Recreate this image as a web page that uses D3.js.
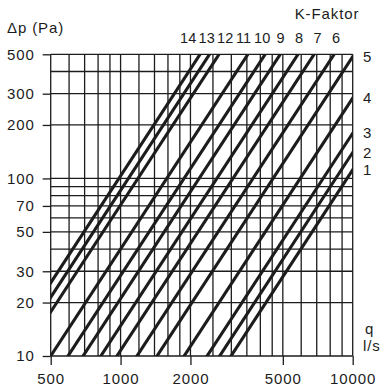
<!DOCTYPE html>
<html><head><meta charset="utf-8">
<script src="https://cdn.jsdelivr.net/npm/d3@7"></script>
<style>html,body{margin:0;padding:0;background:#fff;} svg{display:block;}</style>
</head><body><svg id="chart" width="385" height="387"></svg>
<script>
// K-factor lines: q = K * sqrt(Δp)
const lineIds = ["14","13","12","11","10","9","8","7","6","5","4","3","2","1"];
const kFactors = [98.4,108.1,118.8,158.1,187.7,218,260,305,372,454,594,746,845,946];

const qTicks = [500,1000,2000,5000,10000];
const qGrid = [500,600,700,800,900,1000,1200,1400,1600,1800,2000,2500,3000,3500,4000,4500,5000,6000,7000,8000,9000,10000];
const dpTicks = [10,20,30,50,70,100,200,300,500];
const dpGrid = [10,20,30,40,50,60,70,80,90,100,200,300,400,500];

const plot = {left: 50.7, right: 352.7, top: 54.3, bottom: 356};
const ink = "#1c1c1c";
const font = "'Liberation Sans', Arial, sans-serif";
const fs = 15;
const ls = "0.9px";

const svg = d3.select("#chart");
const x = d3.scaleLog().domain([500, 10000]).range([plot.left, plot.right]);
const y = d3.scaleLog().domain([10, 500]).range([plot.bottom, plot.top]);

svg.append("defs").append("clipPath").attr("id", "plotClip")
  .append("rect")
  .attr("x", plot.left).attr("y", plot.top)
  .attr("width", plot.right - plot.left).attr("height", plot.bottom - plot.top);

const txt = (sel, size = fs, spacing = ls) => sel.attr("fill", ink)
  .style("font-family", font).style("font-size", size + "px").style("letter-spacing", spacing);

// grid
const grid = svg.append("g").attr("stroke", ink).attr("stroke-width", 1.3).attr("fill", "none");
grid.selectAll("line.v").data(qGrid).join("line").attr("class", "v")
  .attr("x1", d => x(d)).attr("x2", d => x(d))
  .attr("y1", plot.top).attr("y2", plot.bottom);
grid.selectAll("line.h").data(dpGrid).join("line").attr("class", "h")
  .attr("y1", d => y(d)).attr("y2", d => y(d))
  .attr("x1", plot.left).attr("x2", plot.right);

// axes
const yAxis = d3.axisLeft(y).tickValues(dpTicks).tickFormat(d3.format("d")).tickSize(8).tickPadding(8);
const gy = svg.append("g").attr("transform", `translate(${plot.left},0)`).call(yAxis);
const xAxis = d3.axisBottom(x).tickValues(qTicks).tickFormat(d3.format("d")).tickSize(9).tickPadding(8);
const gx = svg.append("g").attr("transform", `translate(0,${plot.bottom})`).call(xAxis);
[gx, gy].forEach(g => {
  g.select(".domain").remove();
  g.selectAll(".tick line").attr("stroke", ink).attr("stroke-width", 1.3);
  g.selectAll(".tick text").call(txt);
});

// K-factor lines
const dpEnds = [5, 1000];
const lineGen = d3.line().x(d => x(d.q)).y(d => y(d.dp));
svg.append("g").attr("clip-path", "url(#plotClip)")
  .selectAll("path").data(kFactors).join("path")
  .attr("d", k => lineGen(dpEnds.map(dp => ({q: k * Math.sqrt(dp), dp}))))
  .attr("fill", "none").attr("stroke", ink).attr("stroke-width", 3.1);

// labels: top edge for lines leaving through 500 Pa, right edge for the rest
const dpTop = y.domain()[1], qRight = x.domain()[1];
const topItems = [], rightItems = [];
kFactors.forEach((k, i) => {
  const qTop = k * Math.sqrt(dpTop);
  if (qTop <= qRight) topItems.push({id: lineIds[i], pos: x(qTop) - 1});
  else rightItems.push({id: lineIds[i], pos: y(Math.pow(qRight / k, 2))});
});
// spread the top labels so they do not overlap
const minGap = 18.5;
for (let it = 0; it < 80; it++) {
  for (let j = 1; j < topItems.length; j++) {
    const a = topItems[j - 1], b = topItems[j];
    const gap = b.pos - a.pos;
    if (gap < minGap) { const p = (minGap - gap) / 2; a.pos -= p; b.pos += p; }
  }
}
svg.append("g").selectAll("text").data(topItems).join("text")
  .attr("x", d => d.pos).attr("y", 43).attr("text-anchor", "middle").text(d => d.id)
  .call(txt, 14.5, "0px");
svg.append("g").selectAll("text").data(rightItems).join("text")
  .attr("x", 363).attr("y", d => d.pos).attr("dy", "0.35em").text(d => d.id).call(txt);

// titles
svg.append("text").attr("x", 7).attr("y", 33).text("Δp (Pa)").call(txt);
svg.append("text").attr("x", 327).attr("y", 19).attr("text-anchor", "middle").text("K-Faktor").call(txt);
svg.append("text").attr("x", 365).attr("y", 334).text("q").call(txt);
svg.append("text").attr("x", 363).attr("y", 351).text("l/s").call(txt);
</script>
</body></html>
